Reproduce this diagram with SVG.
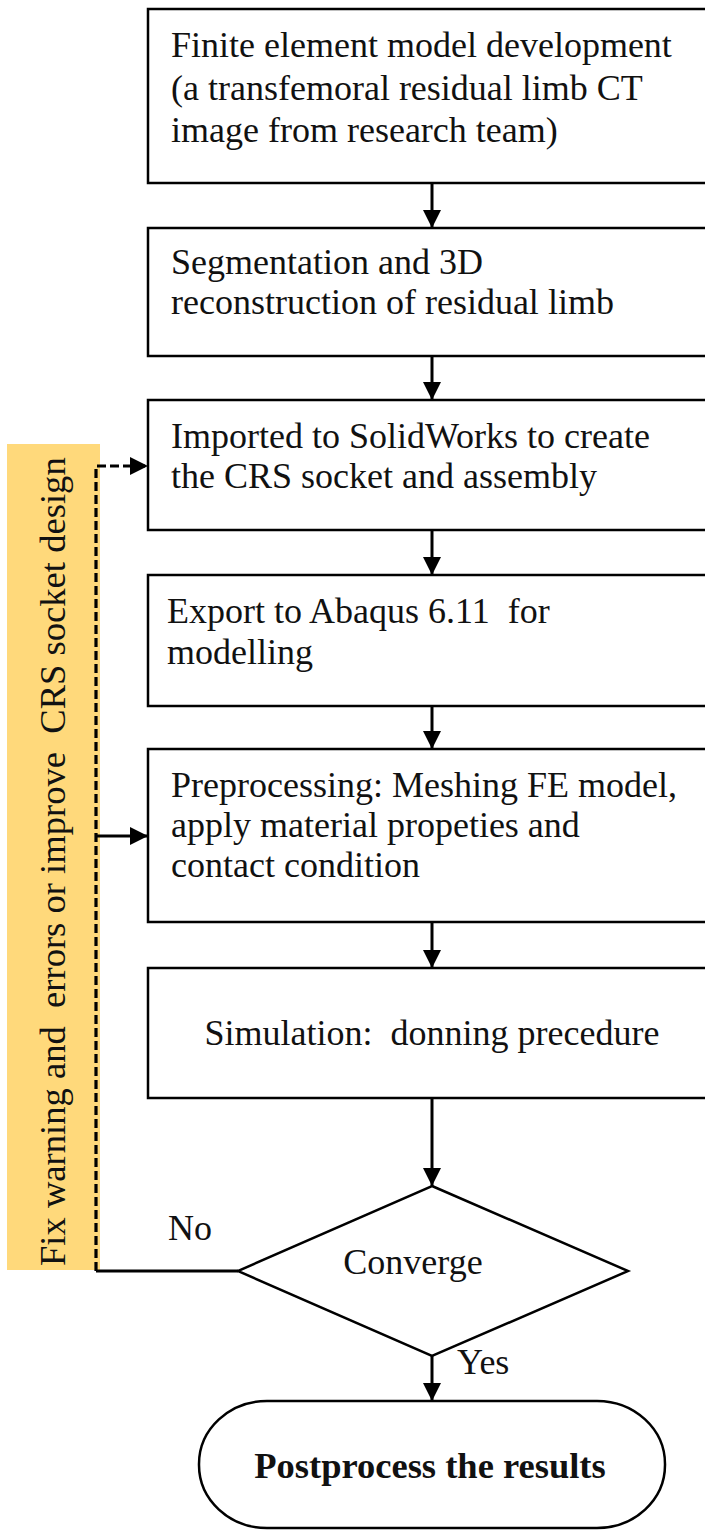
<svg xmlns="http://www.w3.org/2000/svg" width="705" height="1530" viewBox="0 0 705 1530">
<style>
.box{fill:#fff;stroke:#000;stroke-width:2.5}
.t{font-family:"Liberation Serif","Times New Roman",serif;font-size:36px;fill:#111}
.b{font-weight:bold;font-size:36.5px}
.ln{fill:none;stroke:#000;stroke-width:3}
.dash{fill:none;stroke:#000;stroke-width:3.2;stroke-dasharray:9 4}
</style>
<defs>
<marker id="ah" viewBox="0 0 18 18" refX="18" refY="9" markerWidth="18" markerHeight="18" markerUnits="userSpaceOnUse" orient="auto">
<path d="M0,0 L18,9 L0,18 Z" fill="#000"/>
</marker>
</defs>
<rect x="0" y="0" width="705" height="1530" fill="#fff"/>
<g id="note">
<rect x="7" y="444" width="93" height="826" fill="#FFD97B"/>
<text class="t" style="font-size:36.6px" transform="translate(65,1266) rotate(-90)" xml:space="preserve">Fix warning and  errors or improve  CRS socket design</text>
</g>
<g id="connectors">
<line class="ln" x1="432" y1="183" x2="432" y2="228" marker-end="url(#ah)"/>
<line class="ln" x1="432" y1="356" x2="432" y2="400" marker-end="url(#ah)"/>
<line class="ln" x1="432" y1="530" x2="432" y2="575" marker-end="url(#ah)"/>
<line class="ln" x1="432" y1="706" x2="432" y2="749" marker-end="url(#ah)"/>
<line class="ln" x1="432" y1="922" x2="432" y2="968" marker-end="url(#ah)"/>
<line class="ln" x1="432" y1="1098" x2="432" y2="1186" marker-end="url(#ah)"/>
<line class="ln" x1="432" y1="1356" x2="432" y2="1401" marker-end="url(#ah)"/>
<polyline class="ln" points="238,1271 96,1271"/>
<polyline class="dash" points="96,1271 96,466 148,466" marker-end="url(#ah)"/>
<line class="ln" x1="96" y1="836" x2="148" y2="836" marker-end="url(#ah)"/>
<text class="t" x="168" y="1240">No</text>
<text class="t" x="457" y="1374">Yes</text>
</g>
<g id="n1">
<rect class="box" x="148" y="9" width="570" height="174"/>
<text class="t" x="171" y="57">Finite element model development</text>
<text class="t" x="171" y="100">(a transfemoral residual limb CT</text>
<text class="t" x="171" y="142">image from research team)</text>
</g>
<g id="n2">
<rect class="box" x="148" y="228" width="570" height="128"/>
<text class="t" x="171" y="274">Segmentation and 3D</text>
<text class="t" x="171" y="314">reconstruction of residual limb</text>
</g>
<g id="n3">
<rect class="box" x="148" y="400" width="570" height="130"/>
<text class="t" x="171" y="448">Imported to SolidWorks to create</text>
<text class="t" x="171" y="488">the CRS socket and assembly</text>
</g>
<g id="n4">
<rect class="box" x="148" y="575" width="570" height="131"/>
<text class="t" x="167" y="623" xml:space="preserve">Export to Abaqus 6.11  for</text>
<text class="t" x="167" y="664">modelling</text>
</g>
<g id="n5">
<rect class="box" x="148" y="749" width="570" height="173"/>
<text class="t" x="171" y="797">Preprocessing: Meshing FE model,</text>
<text class="t" x="171" y="837">apply material propeties and</text>
<text class="t" x="171" y="877">contact condition</text>
</g>
<g id="n6">
<rect class="box" x="148" y="968" width="570" height="130"/>
<text class="t" x="432" y="1045" text-anchor="middle" xml:space="preserve">Simulation:  donning precedure</text>
</g>
<g id="n7">
<polygon points="432,1186 628,1271 432,1356 238,1271" fill="#fff" stroke="#000" stroke-width="2.5"/>
<text class="t" x="413" y="1274" text-anchor="middle">Converge</text>
</g>
<g id="n8">
<rect x="199" y="1401" width="466" height="127" rx="68" ry="63" fill="#fff" stroke="#000" stroke-width="2.5"/>
<text class="t b" x="430" y="1478" text-anchor="middle">Postprocess the results</text>
</g>
</svg>
